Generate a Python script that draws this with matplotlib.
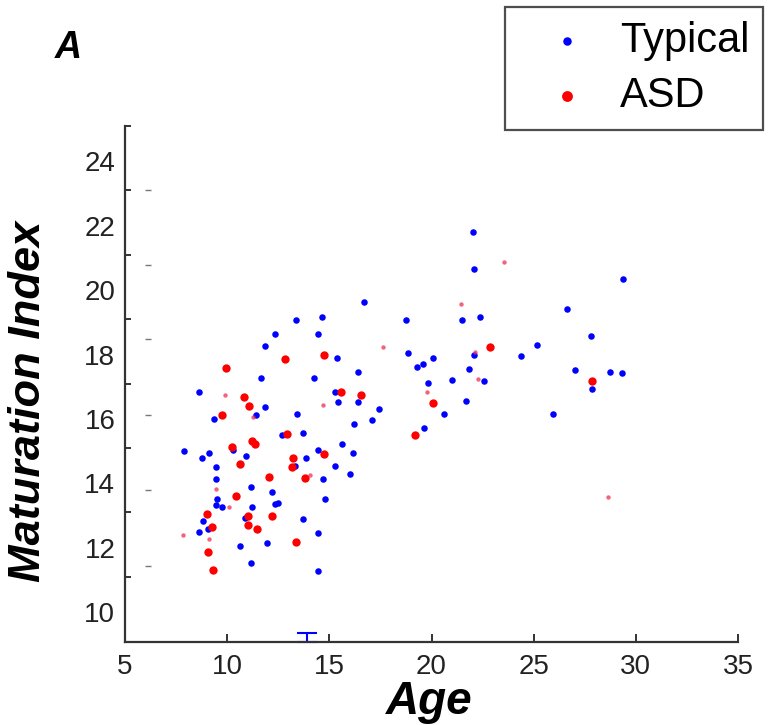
import matplotlib
matplotlib.use("Agg")
import matplotlib.pyplot as plt

plt.rcParams['font.family'] = ['Liberation Sans', 'DejaVu Sans']

# typical group (age, maturation index)
typical_age = [13.37, 14.64, 12.34, 14.45, 11.85, 15.38, 11.66, 14.25, 8.62, 11.85,
               15.28, 15.43, 9.36, 11.41, 13.42, 12.68, 13.71, 10.29, 7.89, 9.11,
               8.77, 10.92, 14.45, 9.45, 13.32, 13.86, 15.28, 14.69, 9.45, 11.17,
               12.20, 9.50, 12.34, 12.49, 14.79, 9.45, 9.75, 11.22, 10.87, 13.71,
               8.82, 9.06, 8.62, 14.45, 10.63, 11.95, 11.17, 14.45,
               22.03, 22.08, 29.38, 16.70, 18.75, 21.50, 22.38, 26.64, 27.81, 25.17,
               22.08, 24.38, 18.85, 20.08, 19.29, 19.59, 16.40, 21.84, 27.03, 28.74,
               29.33, 27.86, 21.01, 22.57, 19.83, 16.40, 21.69, 17.43, 17.09, 20.61,
               25.95, 16.21, 19.64, 15.62, 16.16, 16.01]
typical_mi = [19.07, 19.16, 18.63, 18.63, 18.26, 17.89, 17.27, 17.27, 16.83, 16.37,
              16.83, 16.52, 15.99, 16.12, 16.15, 15.50, 15.56, 15.03, 15.00, 14.94,
              14.78, 14.84, 15.03, 14.50, 14.53, 14.78, 14.53, 14.13, 14.13, 13.88,
              13.73, 13.51, 13.35, 13.39, 13.51, 13.32, 13.26, 13.26, 12.92, 12.89,
              12.83, 12.58, 12.48, 12.45, 12.05, 12.14, 11.52, 11.27,
              21.80, 20.65, 20.34, 19.63, 19.07, 19.07, 19.16, 19.41, 18.57, 18.29,
              17.98, 17.95, 18.04, 17.89, 17.61, 17.70, 17.45, 17.55, 17.52, 17.45,
              17.42, 16.93, 17.20, 17.17, 17.11, 16.52, 16.55, 16.30, 15.96, 16.15,
              16.15, 15.84, 15.71, 15.22, 14.94, 14.29]

# ASD group, larger dots
asd_age = [9.94, 12.83, 14.74, 10.82, 11.07, 9.75, 12.93, 11.22, 11.36, 10.24,
           14.74, 10.63, 13.22, 13.17, 12.05, 13.81, 9.01, 11.02, 12.20, 9.26,
           11.02, 11.46, 13.37, 9.06, 9.31, 15.57, 22.87, 27.86, 16.55, 20.08,
           19.19, 10.43]
asd_mi = [17.58, 17.86, 17.98, 16.68, 16.40, 16.12, 15.53, 15.31, 15.22, 15.12,
          14.91, 14.60, 14.78, 14.50, 14.19, 14.16, 13.04, 12.98, 12.98, 12.64,
          12.70, 12.58, 12.17, 11.86, 11.30, 16.83, 18.23, 17.17, 16.74, 16.49,
          15.50, 13.60]

# ASD group, small faint dots
asd_small_age = [9.89, 14.69, 11.27, 14.06, 9.45, 10.09, 7.84, 9.11, 23.55, 21.45,
                 17.63, 22.13, 22.28, 19.78, 28.64]
asd_small_mi = [16.74, 16.43, 16.06, 14.25, 13.82, 13.26, 12.39, 12.27, 20.87, 19.57,
                18.23, 18.07, 17.24, 16.83, 13.57]

x_ticks = [5, 10, 15, 20, 25, 30, 35]
y_ticks = [10, 12, 14, 16, 18, 20, 22, 24]
y_tick_marks = [11.1, 13.1, 15.1, 17.1, 19.1, 21.1, 23.1, 25.1]

# stray gray dashes left of the cloud
stray_age = [6.13] * 6
stray_mi = [23.11, 20.78, 18.48, 16.12, 13.79, 11.43]

fig = plt.figure(figsize=(7.68, 7.25), dpi=100)
ax = fig.add_axes([125 / 768, 83 / 725, 613 / 768, 516 / 725])

ax.scatter(typical_age, typical_mi, s=22, color='#0000ff', linewidths=0, label='Typical', zorder=3)
ax.scatter(asd_age, asd_mi, s=36, color='#ff0000', linewidths=0, label='ASD', zorder=3)
ax.scatter(asd_small_age, asd_small_mi, s=10, color='#f03050', alpha=0.75, linewidths=0, zorder=3)
ax.plot(stray_age, stray_mi, linestyle='none', marker='_', markersize=4, color='#777777')

# little blue cap on the x axis
ax.errorbar([13.91], [9.07], yerr=[[0], [0.28]], fmt='none', ecolor='#0000ff',
            capsize=7, elinewidth=1.5, capthick=1.5, clip_on=False)

ax.set_xlim(5, 35)
ax.set_ylim(9.07, 25.09)
ax.set_xticks(x_ticks)
ax.set_yticks(y_ticks)
ax.set_yticks(y_tick_marks, minor=True)

for side in ['top', 'right']:
    ax.spines[side].set_visible(False)
for side in ['left', 'bottom']:
    ax.spines[side].set_linewidth(1.6)
    ax.spines[side].set_color('#333333')

ax.tick_params(axis='x', direction='in', length=6, width=1.4, color='#333333', pad=9)
ax.tick_params(axis='y', which='major', length=0, pad=7)
ax.tick_params(axis='y', which='minor', direction='in', length=4, width=1.4, color='#333333')
for lab in ax.get_xticklabels() + ax.get_yticklabels():
    lab.set_fontsize(20)
    lab.set_color('#222222')

fig.text(29 / 768, 1 - 401 / 725, 'Maturation Index', rotation=90, ha='center', va='center',
         fontsize=32.5, fontweight='bold', fontstyle='italic')
fig.text(429 / 768, 1 - 702 / 725, 'Age', ha='center', va='center',
         fontsize=33, fontweight='bold', fontstyle='italic')
fig.text(68 / 768, 1 - 48 / 725, 'A', ha='center', va='center',
         fontsize=27, fontweight='bold', fontstyle='italic')

leg = ax.legend(loc='upper right', bbox_to_anchor=(763 / 768, 1 - 7 / 725),
                bbox_transform=fig.transFigure, fontsize=30, frameon=True, fancybox=False,
                borderpad=0.335, handlelength=2.3, handletextpad=0.11, labelspacing=0.36,
                borderaxespad=0, markerscale=1.3)
leg.get_frame().set_edgecolor('#222222')
leg.get_frame().set_linewidth(1.6)

fig.savefig('out.png', dpi=100)
